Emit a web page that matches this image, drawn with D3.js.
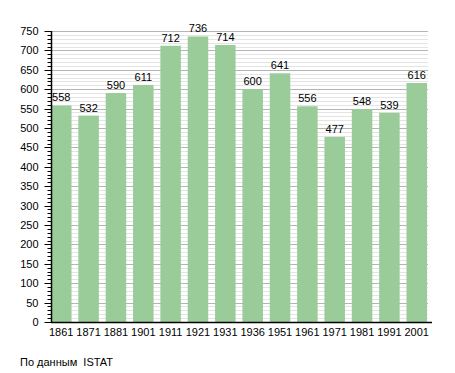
<!DOCTYPE html>
<html>
<head>
    <meta charset="UTF-8">
    <title>Population</title>
    <script src="https://d3js.org/d3.v7.min.js"></script>
    <style>
        body { margin: 0; padding: 0; background: #fff; }
        svg text { font-family: "Liberation Sans", Arial, sans-serif; fill: #000; }
    </style>
</head>
<body>
    <svg id="chart" width="455" height="373"></svg>
    <script>
        const years = ["1861", "1871", "1881", "1901", "1911", "1921", "1931", "1936", "1951", "1961", "1971", "1981", "1991", "2001"];
        const population = [558, 532, 590, 611, 712, 736, 714, 600, 641, 556, 477, 548, 539, 616];
        const yTicks = [0, 50, 100, 150, 200, 250, 300, 350, 400, 450, 500, 550, 600, 650, 700, 750];
        const source = "По данным  ISTAT";

        const plotLeft = 51, plotRight = 427, plotTop = 31, plotBottom = 322;
        const svg = d3.select("#chart");

        const x = d3.scaleBand().domain(years).range([plotLeft, plotRight]).paddingInner(0.25).paddingOuter(0).align(0);
        const y = d3.scaleLinear().domain([0, 750]).range([plotBottom, plotTop]);

        // gridlines: minor every 10, major every 50
        const minor = d3.range(10, 751, 10).filter(v => v % 50 !== 0);
        svg.append("g").selectAll("line").data(minor).enter().append("line")
            .attr("x1", plotLeft).attr("x2", plotRight + 1)
            .attr("y1", d => Math.round(y(d)) + 0.5).attr("y2", d => Math.round(y(d)) + 0.5)
            .attr("stroke", "#e4e4e4").attr("stroke-width", 1);
        svg.append("g").selectAll("line").data(yTicks.filter(v => v > 0)).enter().append("line")
            .attr("x1", plotLeft).attr("x2", plotRight + 1)
            .attr("y1", d => Math.round(y(d)) + 0.5).attr("y2", d => Math.round(y(d)) + 0.5)
            .attr("stroke", "#b4b4b4").attr("stroke-width", 1);

        const data = years.map((yr, i) => ({ yr, v: population[i] }));

        svg.append("g").selectAll("rect").data(data).enter().append("rect")
            .attr("x", d => x(d.yr))
            .attr("y", d => y(d.v))
            .attr("width", x.bandwidth())
            .attr("height", d => plotBottom - y(d.v))
            .attr("fill", "#99cc99");

        svg.append("g").selectAll("text").data(data).enter().append("text")
            .attr("x", d => x(d.yr) + x.bandwidth() / 2)
            .attr("y", d => y(d.v) - 4)
            .attr("text-anchor", "middle")
            .attr("font-size", 11)
            .text(d => d.v);

        // y axis with minor ticks
        const yAxis = svg.append("g").attr("transform", `translate(${plotLeft + 0.5},0)`);
        yAxis.selectAll("line.minor").data(minor).enter().append("line")
            .attr("x1", -4).attr("x2", 0)
            .attr("y1", d => Math.round(y(d)) + 0.5).attr("y2", d => Math.round(y(d)) + 0.5)
            .attr("stroke", "#000");
        yAxis.selectAll("line.major").data(yTicks).enter().append("line")
            .attr("x1", -7).attr("x2", 0)
            .attr("y1", d => Math.round(y(d)) + 0.5).attr("y2", d => Math.round(y(d)) + 0.5)
            .attr("stroke", "#000");
        yAxis.append("line").attr("x1", 0).attr("x2", 0).attr("y1", plotTop).attr("y2", plotBottom + 1)
            .attr("stroke", "#000").attr("stroke-width", 1.5);
        yAxis.selectAll("text").data(yTicks).enter().append("text")
            .attr("x", -13).attr("y", d => y(d) + 4)
            .attr("text-anchor", "end").attr("font-size", 11)
            .text(d => d);

        // x axis
        svg.append("line").attr("x1", plotLeft).attr("x2", plotRight + 5).attr("y1", plotBottom + 0.5).attr("y2", plotBottom + 0.5)
            .attr("stroke", "#000").attr("stroke-width", 1.5);
        svg.append("g").selectAll("text").data(years).enter().append("text")
            .attr("x", d => x(d) + x.bandwidth() / 2).attr("y", plotBottom + 14)
            .attr("text-anchor", "middle").attr("font-size", 11)
            .text(d => d);

        svg.append("text").attr("x", 20).attr("y", 366).attr("font-size", 11)
            .style("white-space", "pre").text(source);
    </script>
</body>
</html>
